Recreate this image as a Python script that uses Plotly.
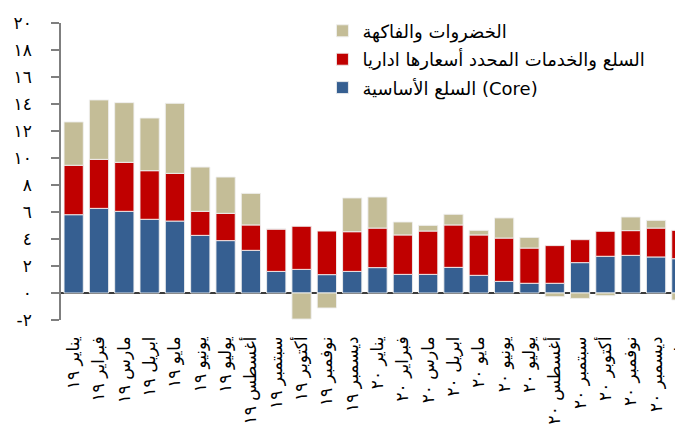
import plotly.graph_objects as go

month_names = ["يناير", "فبراير", "مارس", "ابريل", "مايو", "يونيو",
               "يوليو", "أغسطس", "سبتمبر", "أكتوبر", "نوفمبر", "ديسمبر",
               "يناير", "فبراير", "مارس", "ابريل", "مايو", "يونيو",
               "يوليو", "أغسطس", "سبتمبر", "أكتوبر", "نوفمبر", "ديسمبر",
               "يناير"]
years = ["١٩"] * 12 + ["٢٠"] * 12 + ["٢١"]

core = [5.8, 6.27, 6.05, 5.46, 5.33, 4.27, 3.88, 3.16, 1.6, 1.75, 1.36, 1.6,
        1.88, 1.38, 1.38, 1.9, 1.31, 0.86, 0.72, 0.72, 2.25, 2.72, 2.79, 2.67, 2.54]
admin = [3.66, 3.63, 3.63, 3.6, 3.53, 1.78, 2.02, 1.88, 3.14, 3.19, 3.23, 2.94,
         2.93, 2.92, 3.21, 3.14, 2.99, 3.21, 2.61, 2.79, 1.7, 1.85, 1.83, 2.14, 2.1]
fruits = [3.21, 4.4, 4.42, 3.9, 5.19, 3.28, 2.69, 2.34, 0.0, -1.93, -1.11, 2.5,
          2.3, 0.96, 0.42, 0.79, 0.34, 1.49, 0.79, -0.27, -0.4, -0.2, 1.01, 0.57, -0.52]

names = ["السلع الأساسية (Core)", "السلع والخدمات المحدد أسعارها اداريا", "الخضروات والفاكهة"]
colors = ["#365F91", "#C00000", "#C4BD97"]

tick_vals = [-2, 0, 2, 4, 6, 8, 10, 12, 14, 16, 18, 20]
tick_text = ["-٢", "٠", "٢", "٤", "٦", "٨", "١٠", "١٢", "١٤", "١٦", "١٨", "٢٠"]

FONT = "DejaVu Sans"

labels = [m + " " + y for m, y in zip(month_names, years)]

fig = go.Figure()
ranks = [3, 2, 1]
for i, (vals, nm, col) in enumerate(zip([core, admin, fruits], names, colors)):
    fig.add_trace(go.Bar(
        x=list(range(len(labels))), y=vals, name=nm, legendgroup=str(i),
        legendrank=ranks[i],
        marker=dict(color=col, line=dict(color="rgba(240,240,240,0.9)", width=1)),
    ))

fig.update_layout(
    width=683, height=437,
    barmode="relative", bargap=0.24,
    plot_bgcolor="white", paper_bgcolor="white",
    margin=dict(l=53, r=0, t=15, b=125),
    font=dict(family=FONT, color="black"),
    legend=dict(x=0.415, y=1.035, xanchor="left", yanchor="top",
                traceorder="grouped", tracegroupgap=2,
                font=dict(size=18, family=FONT), bgcolor="rgba(0,0,0,0)",
                itemwidth=30),
    xaxis=dict(range=[-0.5, 24.38], tickmode="array",
               tickvals=list(range(len(labels))), ticktext=labels,
               tickangle=-90, showline=False, ticks="", showgrid=False,
               zeroline=False, tickfont=dict(size=17, family=FONT),
               ticklabelstandoff=12),
    yaxis=dict(range=[-2, 20], tickmode="array", tickvals=tick_vals, ticktext=tick_text,
               showline=True, linecolor="#7f7f7f", linewidth=1.5,
               ticks="outside", ticklen=8, tickcolor="#7f7f7f", tickwidth=1.5,
               showgrid=False, zeroline=True, zerolinecolor="#3a3a3a", zerolinewidth=2,
               tickfont=dict(size=17, family=FONT), ticklabelstandoff=16),
)

fig.write_html("out.html")
